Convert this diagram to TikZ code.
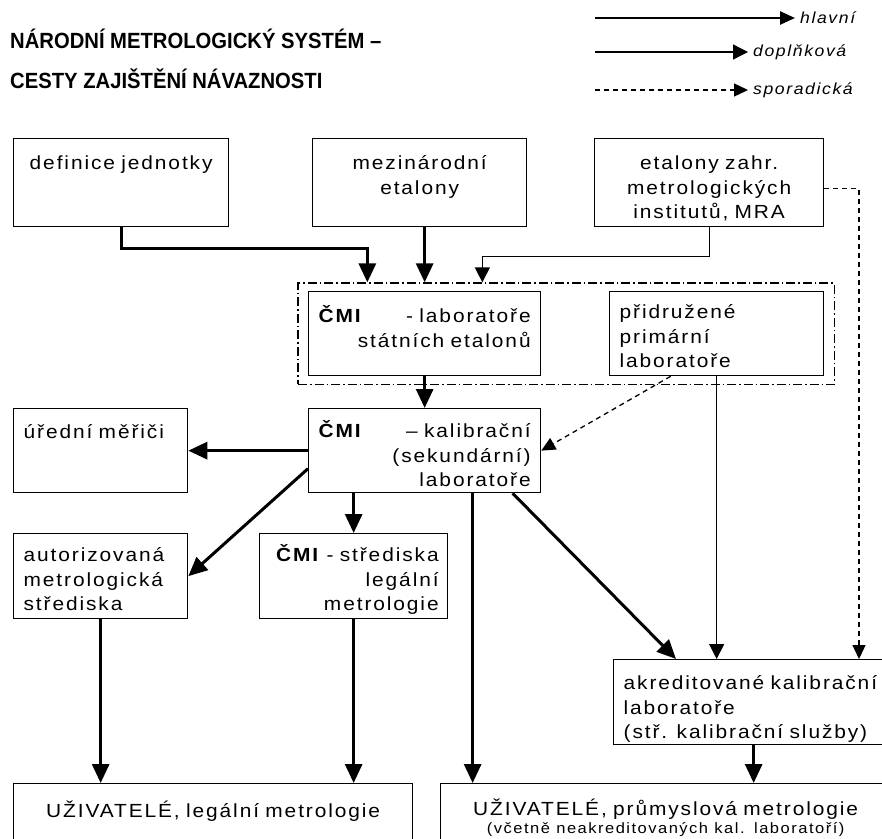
\documentclass[tikz,border=0pt]{standalone}
\usepackage{fontspec}
\setmainfont{Liberation Sans}
\newfontfamily\boxfont[FakeStretch=1.1, LetterSpace=10]{Liberation Sans}
\newfontfamily\titlefont[FakeStretch=0.92]{Liberation Sans}
\usetikzlibrary{arrows.meta, positioning, calc, fit}

\tikzset{
  box/.style={draw, line width=1.3pt, anchor=north west, inner xsep=10pt, inner ysep=0pt,
    font=\boxfont\fontsize{19}{24.5}\selectfont},
  grpbox/.style={draw, line width=1.3pt, dash pattern=on 9pt off 3pt on 1.5pt off 3pt,
    inner xsep=10pt, inner ysep=8pt},
  main/.style={line width=3pt, -{Triangle[length=19pt,width=17pt]}},
  side/.style={line width=1.3pt, -{Triangle[length=15pt,width=15pt]}},
  rare/.style={line width=1.3pt, dash pattern=on 5pt off 4pt, -{Triangle[length=14pt,width=13pt]}},
  titletext/.style={anchor=base west, inner sep=0pt, font=\titlefont\bfseries\fontsize{22}{26}\selectfont},
  legtext/.style={anchor=west, inner sep=5pt, font=\boxfont\itshape\fontsize{16}{18}\selectfont}
}

\begin{document}
\begin{tikzpicture}[x=1pt, y=-1pt]
\useasboundingbox (0,0) rectangle (882,838);
\fill[white] (0,0) rectangle (882,838);
\clip (0,0) rectangle (882,838);

% title
\node[titletext] (title1) at (10,48) {NÁRODNÍ METROLOGICKÝ SYSTÉM –};
\node[titletext] (title2) at (10,88) {CESTY ZAJIŠTĚNÍ NÁVAZNOSTI};

% legend
\node[legtext] (leg1) at (795,18) {hlavní};
\node[legtext] (leg2) at (748,52) {doplňková};
\node[legtext] (leg3) at (748,90) {sporadická};
\draw[line width=2.6pt, -{Triangle[length=15pt,width=13pt]}] ($(leg1.west)+(-200,0)$) -- (leg1.west);
\draw[side] ($(leg2.west)+(-153,0)$) -- (leg2.west);
\draw[rare] ($(leg3.west)+(-153,0)$) -- (leg3.west);

% top row
\node[box, text width=195pt, text height=31pt, text depth=57pt, align=center] (def) at (13,138) {definice jednotky};
\node[box, text width=194pt, text height=31pt, text depth=57pt, align=center] (mez) at (312,138) {mezinárodní\\etalony};
\node[box, text width=209pt, text height=31pt, text depth=57pt, align=center] (zahr) at (594,138) {etalony zahr.\\metrologických\\institutů, MRA};

% primary level
\node[box, text width=212pt, text height=31pt, text depth=53pt, align=right] (lab) at (308,291)
  {\textbf{ČMI}\hspace{0pt plus 1filll} - laboratoře\\státních etalonů};
\node[box, text width=194pt, text height=27pt, text depth=57pt, align=left] (prid) at (609,291)
  {přidružené\\primární\\laboratoře};
\node[grpbox, fit=(lab)(prid)] (grp) {};

% secondary level
\node[box, text width=154pt, text height=30pt, text depth=54pt, align=left] (uredni) at (13,408) {úřední měřiči};
\node[box, text width=212pt, text height=29pt, text depth=55pt, align=right] (kal) at (308,408)
  {\textbf{ČMI}\hspace{0pt plus 1filll} – kalibrační\\(sekundární)\\laboratoře};

\node[box, text width=154pt, text height=28pt, text depth=57pt, align=left] (aut) at (13,533)
  {autorizovaná\\metrologická\\střediska};
\node[box, text width=170pt, text height=28pt, text depth=57pt, inner xsep=9pt, align=right] (str) at (259,533)
  {\textbf{ČMI} - střediska\\legální\\metrologie};

\node[box, text width=260pt, text height=30pt, text depth=55pt, align=left] (akr) at (613,659)
  {akreditované kalibrační\\laboratoře\\(stř. kalibrační služby)};

% users
\node[box, text width=379pt, text height=34pt, text depth=46pt, align=center] (uzl) at (13,783)
  {UŽIVATELÉ, legální metrologie};
\node[box, text width=430pt, text height=32pt, text depth=48pt, align=center] (uzp) at (440,783)
  {UŽIVATELÉ, průmyslová metrologie\\[-7pt]{\fontsize{15}{16}\selectfont (včetně neakreditovaných kal. laboratoří)}};

% connectors
\coordinate (in1) at ($(grp.north west)+(70,0)$);
\coordinate (in2) at (lab.north |- grp.north);
\coordinate (in3) at ($(grp.north west)+(185,0)$);
\coordinate (a3) at ($(akr.north west)+(246,0)$);

\draw[main] (def.south) -- ++(0,21) -| (in1);
\draw[main] (in2 |- mez.south) -- (in2);
\draw[side] (zahr.south) -- ++(0,29) -| (in3);
\draw[rare] ($(zahr.east)+(0,6)$) -| (a3);

\draw[main] (lab) -- (kal);
\draw[rare] ($(prid.south)+(-46,0)$) -- (kal.east);
\draw[side] (prid.south) -- (prid.south |- akr.north);

\draw[main] (kal) -- (uredni);
\draw[main] ($(kal.west)+(0,18)$) -- (aut.east);
\draw[main] (str.north |- kal.south) -- (str);
\draw[main] ($(kal.south)+(48,0)$) coordinate (k1) -- (k1 |- uzp.north);
\draw[main] ($(kal.south)+(88,0)$) -- ($(akr.north west)+(63,0)$);

\draw[main] (aut.south) -- (aut.south |- uzl.north);
\draw[main] (str.south) -- (str.south |- uzl.north);
\draw[main] (akr.south) -- (akr.south |- uzp.north);
\end{tikzpicture}
\end{document}
